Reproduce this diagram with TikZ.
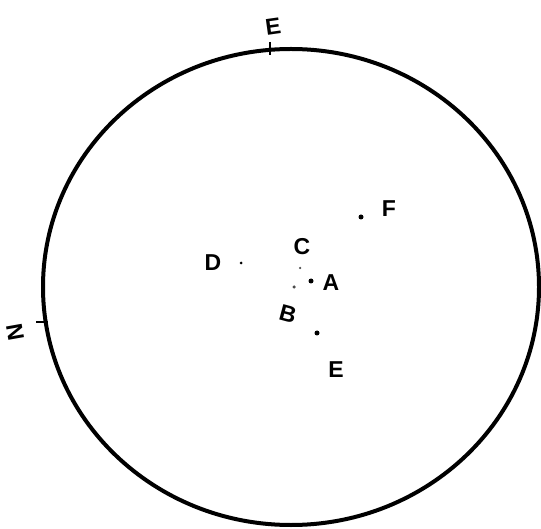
\documentclass[tikz,border=0pt]{standalone}
\usepackage{fontspec}
\setmainfont{Liberation Sans}
\begin{document}
\begin{tikzpicture}[x=1pt,y=-1pt,
  lbl/.style={font=\bfseries\fontsize{23}{23}\selectfont, inner sep=0pt},
  dotmark/.style={circle, fill=black, inner sep=0pt, minimum size=5pt},
  smalldot/.style={circle, fill=black!70, inner sep=0pt, minimum size=3.5pt},
  tick/.style={line width=1.8pt}]
\useasboundingbox (0,0) rectangle (541,529);
\draw[line width=4pt] (291,287) ellipse [x radius=248pt, y radius=238pt];
% ticks
\coordinate (tTop1) at (270,42);
\coordinate (tTop2) at (270,55);
\draw[tick] (tTop1) -- (tTop2);
\coordinate (tLeft1) at (36,322);
\coordinate (tLeft2) at (48,322);
\draw[tick] (tLeft1) -- (tLeft2);
% labels
\node[lbl, rotate=8] (Etop) at (273,27) {E};
\node[lbl, rotate=-80] (N) at (15,332) {N};
\node[lbl] (F) at (389,209) {F};
\node[lbl] (C) at (302,247) {C};
\node[lbl] (D) at (213,263) {D};
\node[lbl] (A) at (331,283) {A};
\node[lbl, rotate=-15] (B) at (288,314) {B};
\node[lbl] (E) at (336,370) {E};
% dots
\node[dotmark] (dF) at (361,217) {};
\node[dotmark, minimum size=3pt] (dD) at (241,263) {};
\node[smalldot, minimum size=2.5pt] (dC) at (300,268) {};
\node[dotmark] (dA) at (311,281) {};
\node[smalldot] (dB) at (294,287) {};
\node[dotmark] (dE) at (317,333) {};
\end{tikzpicture}
\end{document}
